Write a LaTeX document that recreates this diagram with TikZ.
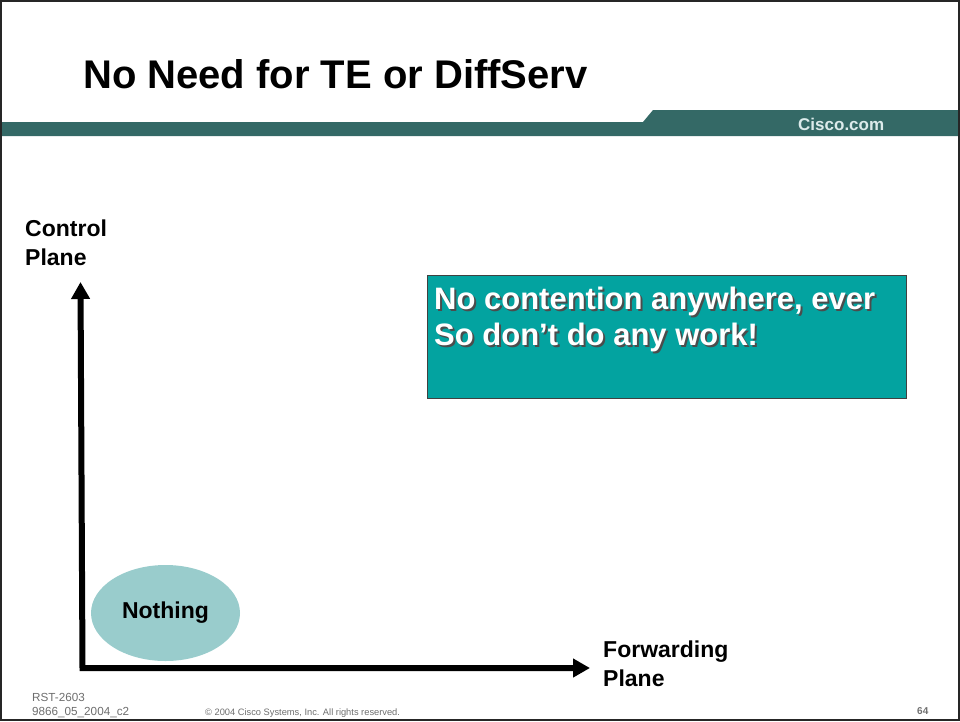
\documentclass[tikz,border=0pt]{standalone}
\usepackage{fontspec}
\setmainfont{Liberation Sans}
\usetikzlibrary{positioning, arrows.meta, shapes.geometric}

\definecolor{bandteal}{RGB}{52,105,102}
\definecolor{boxteal}{RGB}{3,163,160}
\definecolor{blobteal}{RGB}{153,204,204}
\definecolor{footgray}{RGB}{110,110,110}

\newcommand{\shtext}[1]{\leavevmode\rlap{\hspace{2pt}\raisebox{-2pt}{\textcolor{black!70}{#1}}}\textcolor{white}{#1}}

\begin{document}
\begin{tikzpicture}[
    x=1pt, y=-1pt,
    title/.style={
        anchor=base west,
        inner sep=0pt,
        font=\fontsize{40}{48}\selectfont\bfseries
    },
    axislabel/.style={
        anchor=base west,
        inner sep=0pt,
        align=left,
        font=\fontsize{23}{29}\selectfont\bfseries
    },
    msgbox/.style={
        rectangle,
        draw=black!75,
        fill=boxteal,
        line width=1pt,
        minimum width=479pt,
        minimum height=123pt
    },
    msgtext/.style={
        anchor=base west,
        inner sep=0pt,
        align=left,
        font=\fontsize{31}{36}\selectfont\bfseries
    },
    blob/.style={
        ellipse,
        fill=blobteal,
        minimum width=149pt,
        minimum height=96pt,
        font=\fontsize{23}{28}\selectfont\bfseries
    },
    axis/.style={
        line width=6pt,
        line join=miter,
        {Triangle[length=17pt, width=18pt]}-{Triangle[length=17pt, width=18pt]}
    },
    foot/.style={
        anchor=base west,
        inner sep=0pt,
        text=footgray,
        font=\fontsize{11.7}{14}\selectfont
    }
]
\useasboundingbox (0,0) rectangle (960,721);

% Kopfzeile
\fill[bandteal] (2,122) -- (643,122) -- (653,110) -- (958,110) -- (958,136) -- (2,136) -- cycle;
\node[title] (head) at (83,88) {No Need for TE or DiffServ};
\node[anchor=base west, inner sep=0pt, text={rgb,255:red,220;green,235;blue,235},
    font=\fontsize{17}{20}\selectfont\bfseries] (cisco) at (798,130) {Cisco.com};

% Achsen
\coordinate (ytip) at (80.5,282);
\coordinate (orig) at (82.5,668);
\coordinate (xtip) at (590,668);
\node[blob] (nothing) at (165.5,613) {Nothing};
\draw[axis] (ytip) -- (orig) -- (xtip);

% base = letzte Zeile
\node[axislabel] (ctrl) at (25,265) {Control\\Plane};
\node[axislabel] (fwd) at (603,686) {Forwarding\\Plane};

% Textkasten
\node[msgbox] (msg) at (666.5,336.5) {};
\node[msgtext] (msgtxt) at (434,345) {\shtext{No contention anywhere, ever}\\\shtext{So don’t do any work!}};

% Fusszeile
\node[foot] (rst) at (32,701) {RST-2603};
\node[foot] (code) at (32,715) {9866\_05\_2004\_c2};
\node[foot, font=\fontsize{9.3}{11}\selectfont] (copy) at (205,715) {© 2004 Cisco Systems, Inc. All rights reserved.};
\node[foot, font=\fontsize{10}{12}\selectfont\bfseries] (page) at (917,714) {64};

\draw[black!85, line width=2pt] (1,1) rectangle (959,720);
\end{tikzpicture}
\end{document}
